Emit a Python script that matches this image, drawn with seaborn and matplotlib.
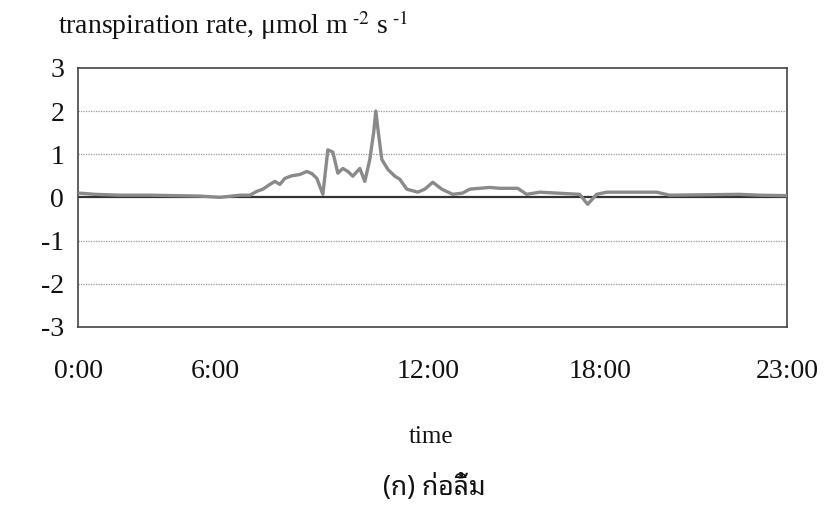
import matplotlib
matplotlib.use("Agg")
import matplotlib.pyplot as plt
from matplotlib import font_manager as fm
import seaborn as sns
import pandas as pd

# position along the category axis (0..142) and transpiration rate
position = [0, 3.4, 8.4, 14.4, 24.4, 28.4, 32.4, 34.4, 35.8, 37, 38.4, 39.4, 40.4, 41.4,
            42.8, 44.4, 45.8, 46.8, 47.8, 49, 50, 51, 52, 53, 54, 55, 56.4, 57.4, 58.4,
            59.2, 59.6, 60, 60.8, 62, 63.4, 64.4, 65.8, 68, 69.4, 71, 72.8, 75, 77, 78.4,
            82.4, 84.4, 88, 89.8, 92.4, 100.4, 102, 103.8, 105.8, 115.8, 118.4, 132.4,
            136.4, 141.8]
rate = [0.10, 0.07, 0.05, 0.05, 0.03, 0.00, 0.05, 0.05, 0.14, 0.19, 0.30, 0.37, 0.30, 0.44,
        0.50, 0.53, 0.60, 0.55, 0.44, 0.07, 1.10, 1.05, 0.56, 0.67, 0.60, 0.49, 0.67, 0.37,
        0.88, 1.53, 2.00, 1.60, 0.88, 0.65, 0.49, 0.42, 0.19, 0.12, 0.19, 0.35, 0.19, 0.07,
        0.10, 0.19, 0.23, 0.21, 0.21, 0.07, 0.12, 0.07, -0.16, 0.07, 0.12, 0.12, 0.05, 0.07,
        0.05, 0.04]
tick_pos = [0, 27.5, 70, 104.5, 142]
tick_labels = ["0:00", "6:00", "12:00", "18:00", "23:00"]
y_ticks = [-3, -2, -1, 0, 1, 2, 3]

df = pd.DataFrame({"position": position, "rate": rate})

sns.set_theme(style="white")
plt.rcParams["font.family"] = ["Liberation Serif", "DejaVu Sans"]
plt.rcParams["mathtext.fontset"] = "stix"

available = {f.name for f in fm.fontManager.ttflist}
thai_pref = ["Noto Sans Thai Looped", "Noto Sans Thai", "Sarabun", "Athiti", "Anuphan"]
thai_font = next((n for n in thai_pref if n in available), "Athiti")

fig = plt.figure(figsize=(8.24, 5.18), dpi=100)
ax = fig.add_axes([0.0947, 0.369, 0.861, 0.500])

for yv in [-2, -1, 1, 2]:
    ax.axhline(yv, color="#999999", lw=0.9, ls=(0, (1, 1)), zorder=1)
ax.axhline(0, color="#333333", lw=1.6, zorder=2)

sns.lineplot(data=df, x="position", y="rate", ax=ax, color="#8a8a8a", lw=2.4, zorder=3)

ax.set_xlim(0, 142)
ax.set_ylim(-3, 3)
ax.set_yticks(y_ticks)
ax.set_yticklabels([str(v) for v in y_ticks])
ax.set_xticks(tick_pos)
ax.set_xticklabels(tick_labels)
ax.tick_params(axis="both", length=0, labelsize=20, colors="#111111")
ax.tick_params(axis="x", pad=23)
ax.tick_params(axis="y", pad=10)
ax.set_xlabel("")
ax.set_ylabel("")
for s in ax.spines.values():
    s.set_color("#444444")
    s.set_linewidth(1.2)

fig.text(0.070, 0.952,
         "transpiration rate, \u03bcmol m$^{\\ \u2010 2}$ s$^{\\ \u2010 1}$",
         fontsize=20, va="center", ha="left", color="#111111")
fig.text(0.523, 0.157, "time", fontsize=18, ha="center", va="center", color="#111111")
fig.text(0.527, 0.058, "(ก) ก่อลิ้ม", fontsize=19, ha="center", va="center", color="#111111",
         family=[thai_font, "DejaVu Sans"])

fig.savefig("out.png", dpi=100)
